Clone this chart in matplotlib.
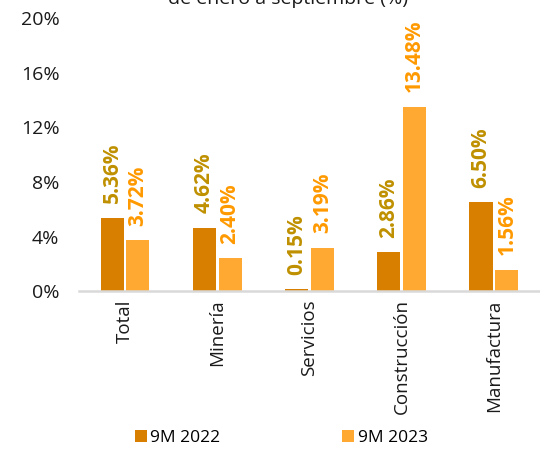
import numpy as np
import matplotlib.pyplot as plt

plt.rcParams['font.family'] = ['Open Sans', 'DejaVu Sans']

categories = ["Total", "Minería", "Servicios", "Construcción", "Manufactura"]
v2022 = [5.36, 4.62, 0.15, 2.86, 6.50]
v2023 = [3.72, 2.40, 3.19, 13.48, 1.56]
series_names = ["9M 2022", "9M 2023"]

c2022 = "#D97F00"
c2023 = "#FFA933"
t2022 = "#BF9000"
t2023 = "#FF9900"

fig = plt.figure(figsize=(5.4, 4.5), dpi=100)
ax = fig.add_axes([0.146, 0.353, 0.854, 0.607])

x = np.arange(len(categories))
w = 0.25
b1 = ax.bar(x - w / 2 - 0.015, v2022, w, color=c2022, label=series_names[0])
b2 = ax.bar(x + w / 2 + 0.015, v2023, w, color=c2023, label=series_names[1])

for bars, vals, col in [(b1, v2022, t2022), (b2, v2023, t2023)]:
    for b, v in zip(bars, vals):
        ax.annotate("{0:.2f}%".format(v), (b.get_x() + b.get_width() / 2, b.get_height()),
                    xytext=(0, 10.5), textcoords="offset points", rotation=90,
                    ha="center", va="bottom", fontsize=15, fontweight="bold",
                    color=col, annotation_clip=False)

ax.set_xlim(-0.5, len(categories) - 0.5)
ax.set_ylim(0, 20)
ax.set_yticks(np.arange(0, 21, 4))
ax.set_yticklabels(["{0}%".format(t) for t in range(0, 21, 4)], fontsize=14, color="#1a1a1a")
ax.set_xticks(x)
ax.set_xticklabels(categories, rotation=90, fontsize=13.5, color="#1a1a1a")
ax.tick_params(length=0)
ax.tick_params(axis="x", pad=6)
ax.tick_params(axis="y", pad=14)
for s in ["top", "right", "left"]:
    ax.spines[s].set_visible(False)
ax.spines["bottom"].set_color("#D9D9D9")
ax.spines["bottom"].set_linewidth(1.8)

fig.text(0.533, 1.003, "de enero a septiembre (%)", ha="center", va="center", fontsize=14, color="#1a1a1a")

fig.legend(loc="center", bbox_to_anchor=(0.521, 0.027), ncol=2, frameon=False, fontsize=12.5,
           handlelength=0.7, handleheight=0.7, handletextpad=0.2, columnspacing=7.0)

fig.savefig("out.png", dpi=100)
